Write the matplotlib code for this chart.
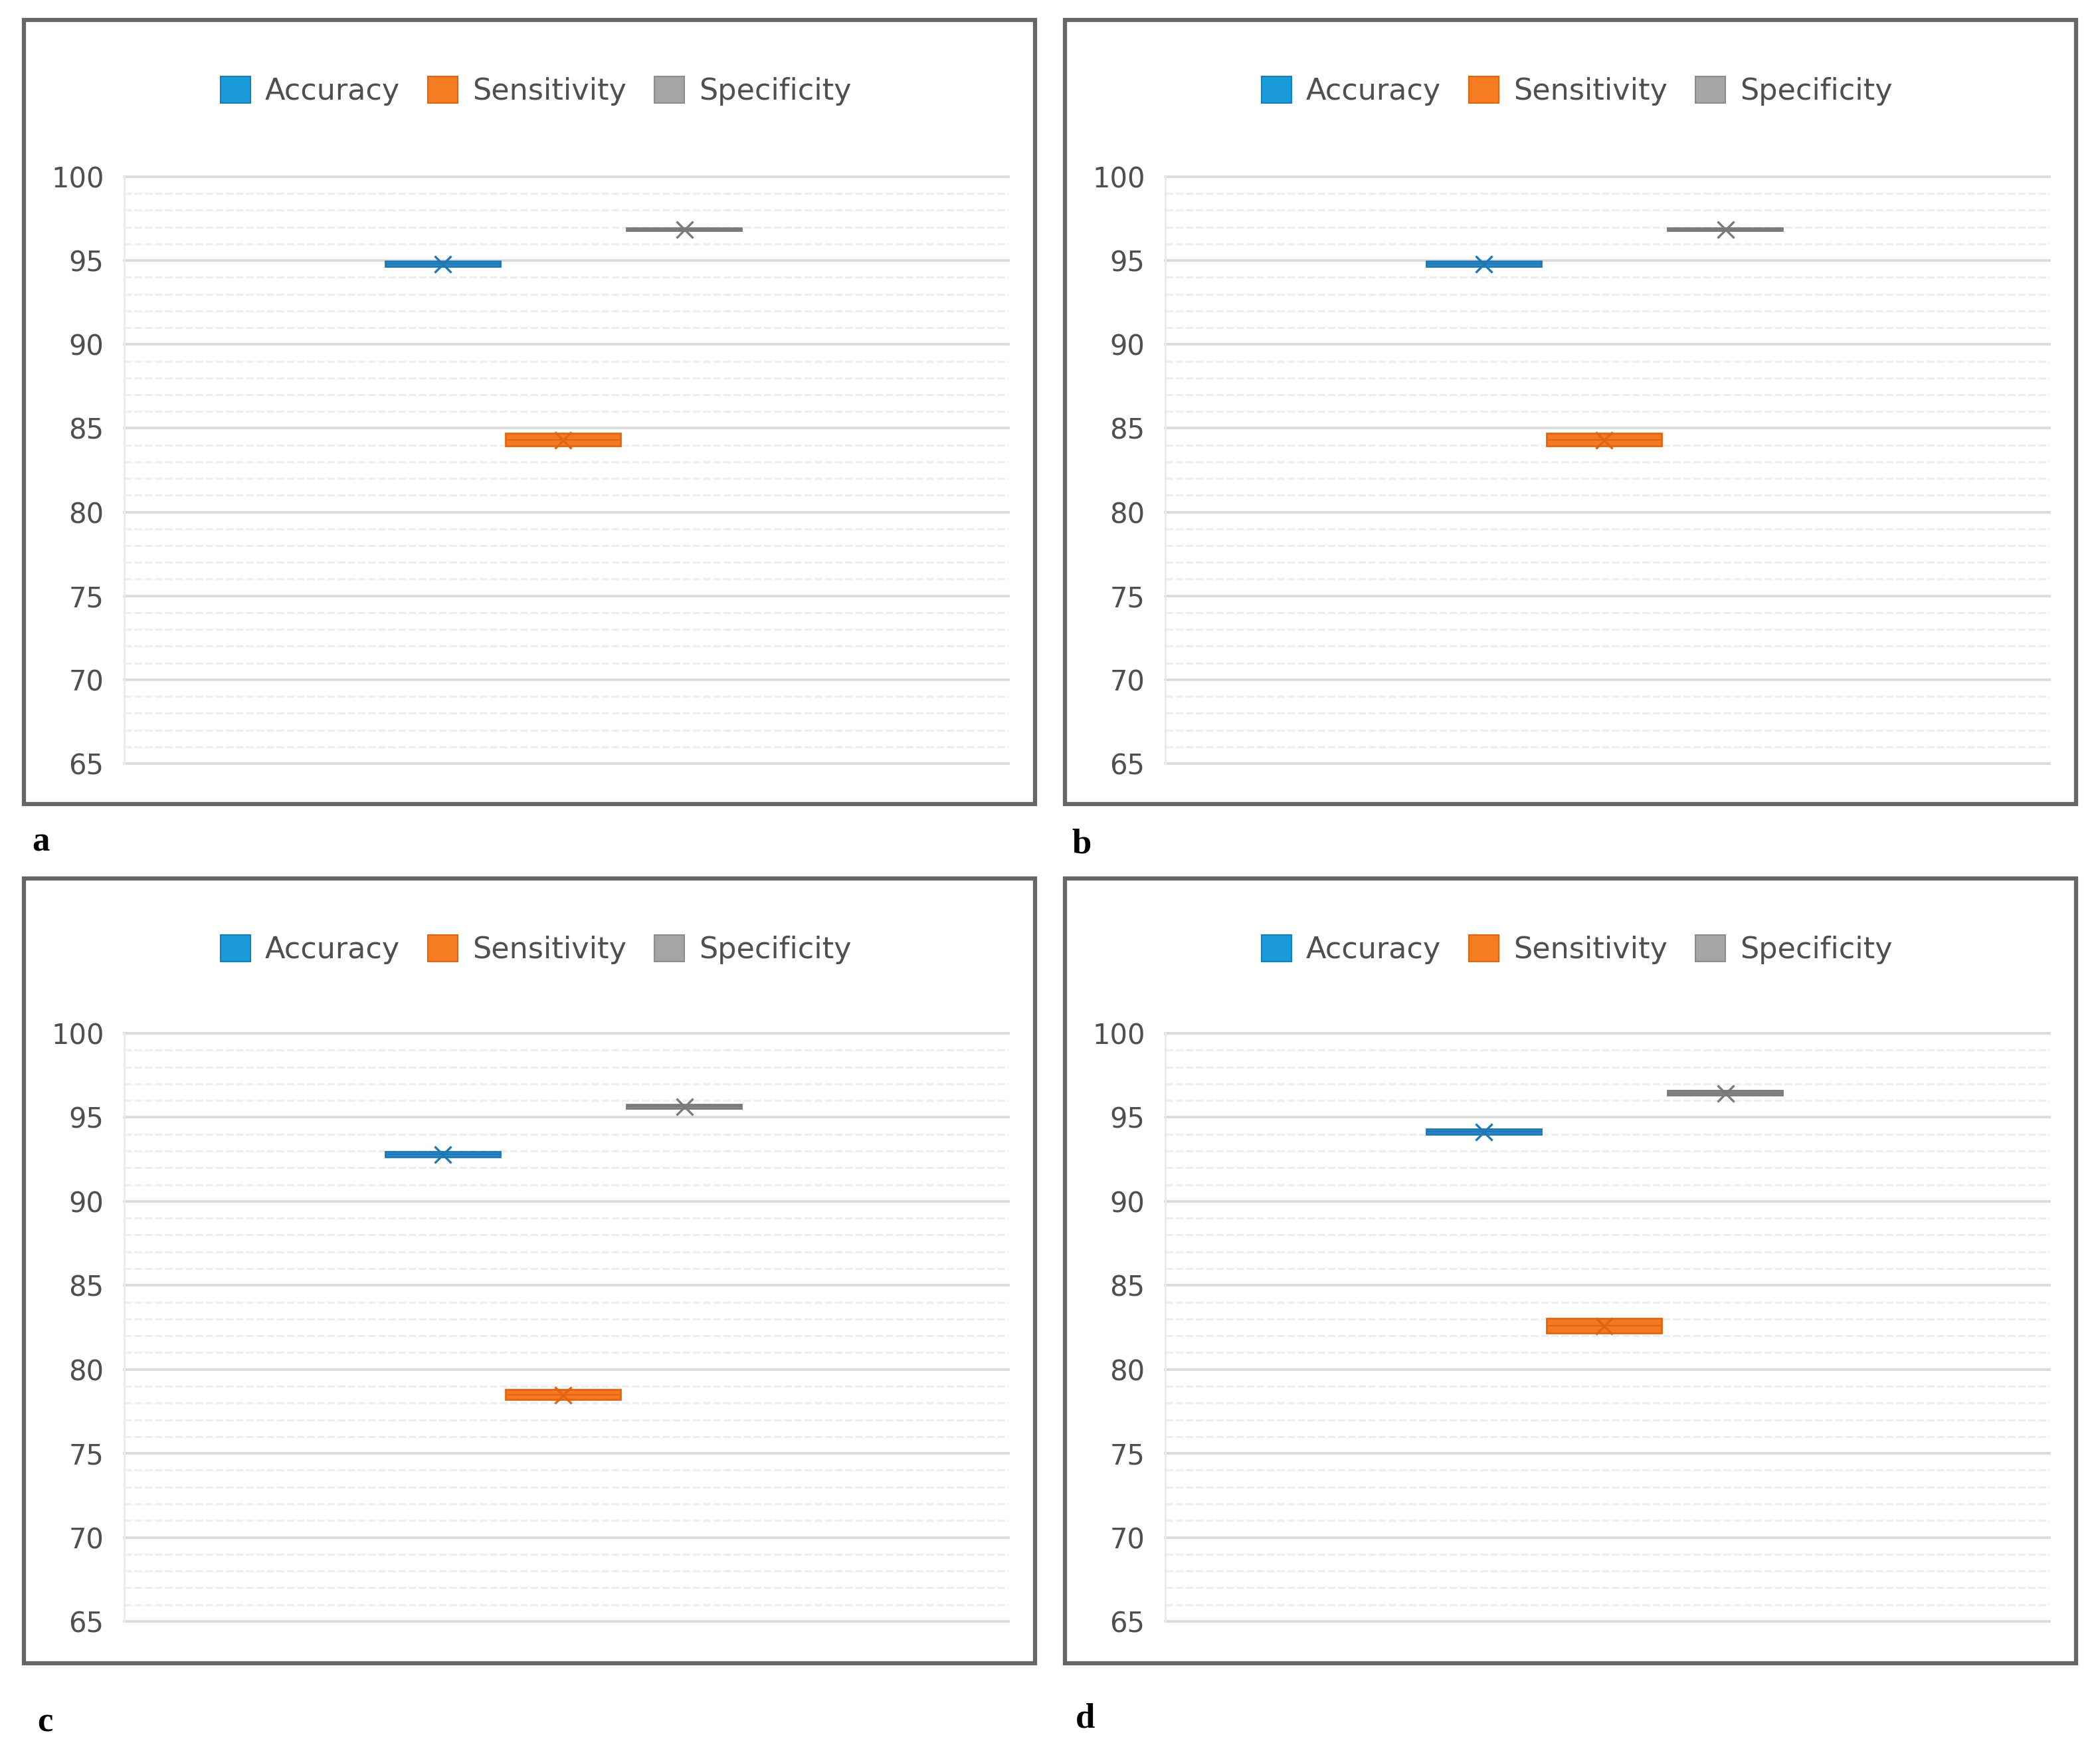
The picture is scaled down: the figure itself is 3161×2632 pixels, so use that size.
import matplotlib
matplotlib.use("Agg")
import matplotlib.pyplot as plt
from matplotlib.patches import Rectangle, Patch
import numpy as np

# ---------------- data ----------------
panel_labels = ["a", "b", "c", "d"]
metrics = ["Accuracy", "Sensitivity", "Specificity"]

acc_low = [94.65, 94.65, 92.63, 94.00]
acc_high = [94.95, 94.95, 92.97, 94.30]
acc_mean = [94.80, 94.80, 92.80, 94.15]

sens_low = [83.95, 83.95, 78.20, 82.15]
sens_high = [84.70, 84.70, 78.80, 83.05]
sens_mean = [84.30, 84.30, 78.50, 82.60]

spec_low = [96.80, 96.80, 95.52, 96.32]
spec_high = [96.95, 96.95, 95.77, 96.60]
spec_mean = [96.88, 96.88, 95.65, 96.45]

y_ticks = [65, 70, 75, 80, 85, 90, 95, 100]
y_tick_labels = ["65", "70", "75", "80", "85", "90", "95", "100"]

# ---------------- styles ----------------
face_colors = ["#2a8bcb", "#f47920", "#8e8e8e"]
edge_colors = ["#1f78b4", "#e2640f", "#7a7a7a"]
legend_colors = ["#1b9ad9", "#f57c22", "#a5a5a5"]
legend_edges = ["#137fb8", "#e0650f", "#8c8c8c"]
text_color = "#4f4f4f"

W, H = 3161, 2632
fig = plt.figure(figsize=(W / 100, H / 100), dpi=100)

# panel boxes (pixel coords, top-origin): x0, x1, y0, y1
boxes = [(36, 1558, 30, 1210), (1603, 3125, 30, 1210),
         (36, 1558, 1322, 2503), (1603, 3125, 1322, 2503)]
# plot areas
areas = [(187, 1518, 266, 1149), (1754, 3085, 266, 1149),
         (187, 1518, 1555, 2440), (1754, 3085, 1555, 2440)]
legend_centers = [(807, 137), (2374, 137), (807, 1429), (2374, 1429)]
label_pos = [(48, 1280), (1613, 1284), (56, 2605), (1619, 2600)]

positions = [0.360, 0.496, 0.633]
box_width = 0.130

for i in range(4):
    x0, x1, y0, y1 = boxes[i]
    fig.add_artist(Rectangle((x0 / W, 1 - y1 / H), (x1 - x0) / W, (y1 - y0) / H,
                             transform=fig.transFigure, fill=False,
                             edgecolor="#666666", linewidth=4.5))
    ax0, ax1, ay0, ay1 = areas[i]
    ax = fig.add_axes([ax0 / W, 1 - ay1 / H, (ax1 - ax0) / W, (ay1 - ay0) / H])
    ax.set_xlim(0, 1)
    ax.set_ylim(65, 100)
    for s in ax.spines.values():
        s.set_visible(False)

    # gridlines
    for v in np.arange(66, 100, 1):
        if v % 5 != 0:
            ax.axhline(v, color="#ededed", lw=2.0, ls=(0, (4, 1.5)), zorder=0)
    for v in y_ticks:
        ax.axhline(v, color="#dcdcdc", lw=2.8, zorder=0.5, clip_on=False)
    ax.axvline(0, color="#ebebeb", lw=2.2, zorder=0.5, clip_on=False)

    lows = [acc_low[i], sens_low[i], spec_low[i]]
    highs = [acc_high[i], sens_high[i], spec_high[i]]
    means = [acc_mean[i], sens_mean[i], spec_mean[i]]
    for k in range(3):
        stats = [dict(med=means[k], q1=lows[k], q3=highs[k], whislo=lows[k],
                      whishi=highs[k], mean=means[k], fliers=[], label=metrics[k])]
        ax.bxp(stats, positions=[positions[k]], widths=box_width,
               patch_artist=True, showmeans=True, showcaps=False,
               showfliers=False, manage_ticks=False,
               boxprops=dict(facecolor=face_colors[k], edgecolor=edge_colors[k], lw=2.0),
               medianprops=dict(color=edge_colors[k], lw=1.5),
               whiskerprops=dict(color=edge_colors[k], lw=1.5),
               meanprops=dict(marker="x", markersize=18, markeredgewidth=2.4,
                              markeredgecolor=edge_colors[k]))

    ax.set_xticks([])
    ax.set_yticks(y_ticks)
    ax.set_yticklabels(y_tick_labels)
    ax.tick_params(axis="y", length=0, pad=22, labelsize=30, labelcolor=text_color)

    handles = [Patch(facecolor=legend_colors[k], edgecolor=legend_edges[k], lw=1.5)
               for k in range(3)]
    lx, ly = legend_centers[i]
    fig.legend(handles, metrics, loc="center", bbox_to_anchor=(lx / W, 1 - ly / H),
               bbox_transform=fig.transFigure, ncol=3, frameon=False,
               fontsize=32, labelcolor=text_color, handlelength=1.0,
               handleheight=1.0, handletextpad=0.5, columnspacing=0.95)

    px, py = label_pos[i]
    fig.text(px / W, 1 - py / H, panel_labels[i], ha="left", va="baseline",
             fontsize=38, fontweight="bold", family="Liberation Serif", color="black")

fig.savefig("out.png", dpi=100, facecolor="white")
